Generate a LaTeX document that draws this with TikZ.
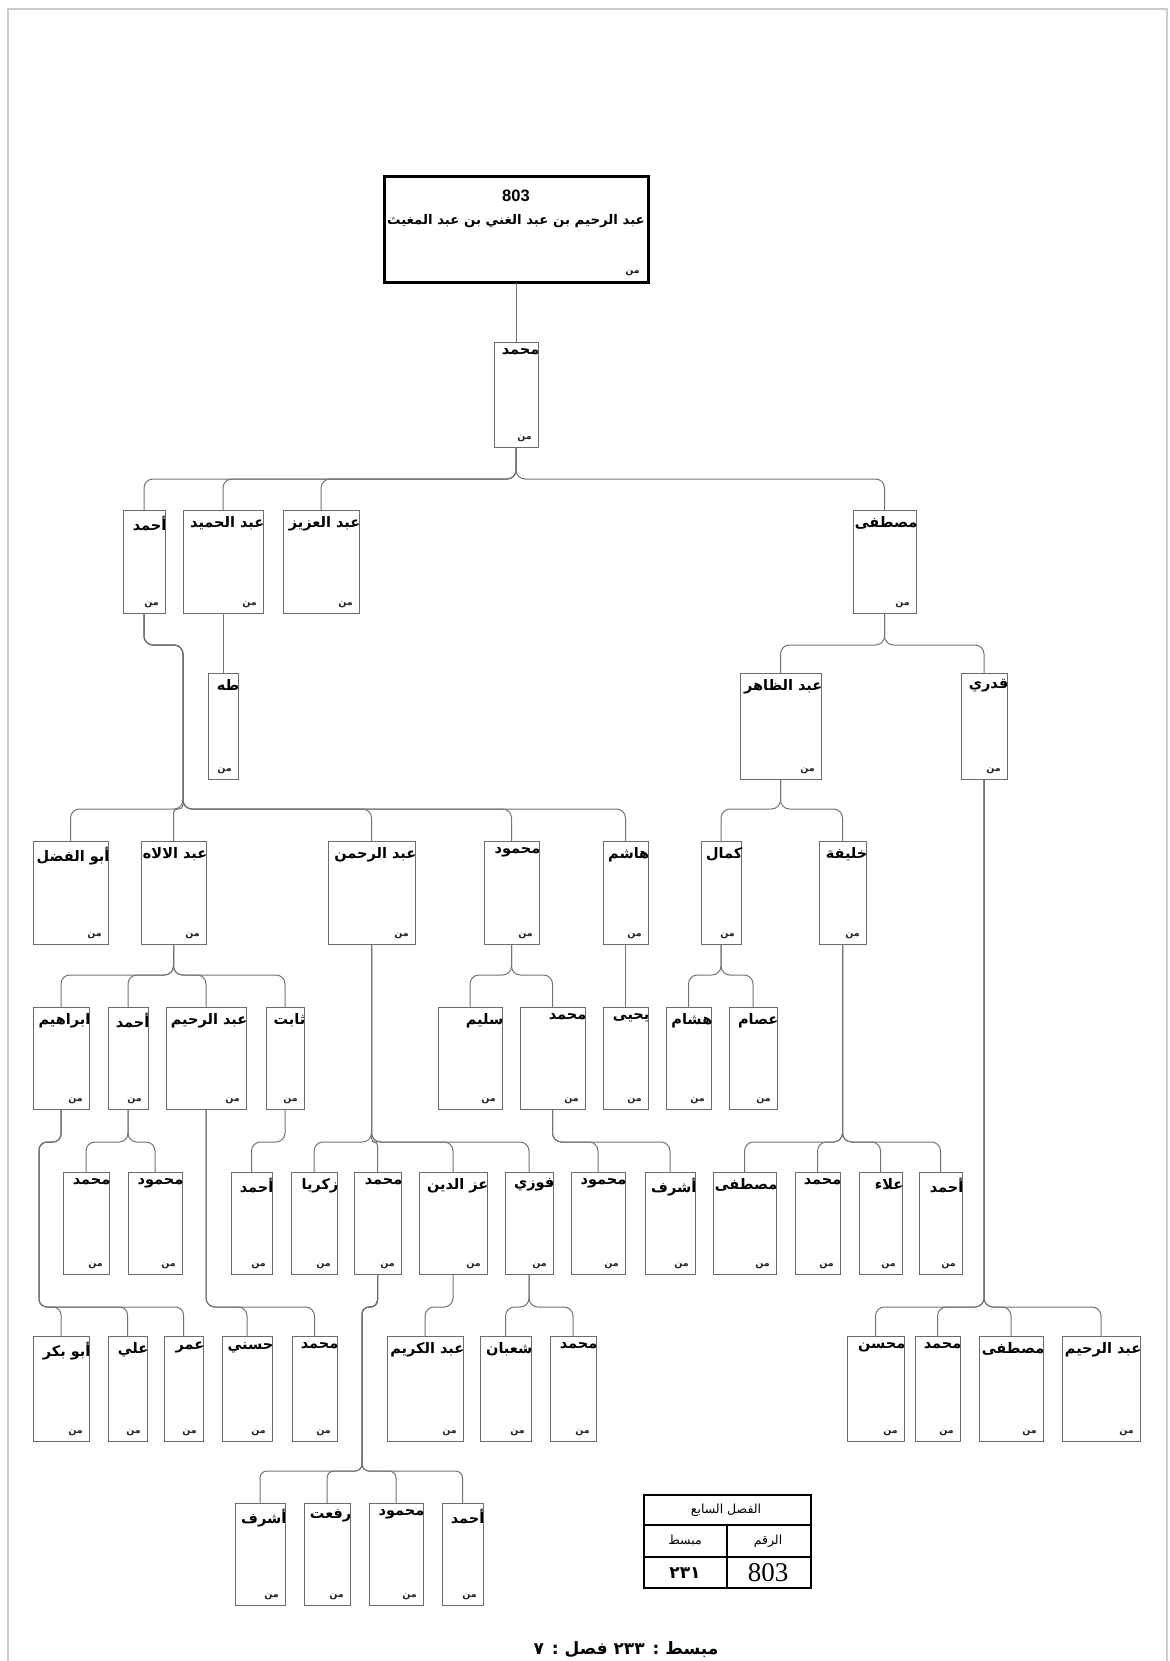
\documentclass[tikz,border=0pt]{standalone}
\usepackage{fontspec}
\setmainfont{Liberation Sans}
\newfontfamily\arb[Script=Arabic]{DejaVu Sans}
\newfontfamily\tms{Liberation Serif}
\TeXXeTstate=1
\definecolor{boxgray}{gray}{0.42}
\definecolor{linegray}{gray}{0.45}
\tikzset{
  box/.style={draw=boxgray, line width=1pt, inner sep=0pt, outer sep=0pt, fill=white},
  rootbox/.style={draw=black, line width=3pt, inner sep=0pt, outer sep=0pt, fill=white},
  nm/.style={font=\arb\bfseries\fontsize{14.5}{16}\selectfont, inner sep=0pt, text=black},
  mn/.style={font=\arb\bfseries\fontsize{9.5}{11}\selectfont, inner sep=0pt, text=black!85},
  conn/.style={draw=linegray, line width=1pt},
  tline/.style={draw=black, line width=1.6pt},
}
\newcommand\bx[6]{%
  \node[box, minimum width={(#4-#2)*1pt}, minimum height={(#5-#3)*1pt}, anchor=north west] (#1) at (#2,#3) {};
  \node[nm, anchor=north east] (#1-t) at ([xshift=1.5pt,yshift=-6pt]#1.north east) {#6};
  \node[mn, anchor=south east] (#1-m) at ([xshift=-6pt,yshift=5pt]#1.south east) {\beginR من\endR};
}
% parent, child, level
\newcommand\kid[4][9pt]{\draw[conn,rounded corners=#1] (#2.south) -- (#2.south |- #4) -- (#3.north |- #4) -- (#3.north);}
% parent, child, jog point, level
\newcommand\kidj[5][9pt]{\draw[conn,rounded corners=#1] (#2.south) -- (#2.south |- #4) -- (#4) -- (#4 |- #5) -- (#3.north |- #5) -- (#3.north);}
\newcommand\kids[2]{\draw[conn] (#1.south) -- (#2.north);}
\begin{document}
\begin{tikzpicture}[x=1pt,y=-1pt]
\useasboundingbox (0,0) rectangle (1169,1661);
\clip (0,0) rectangle (1169,1661);
\fill[white] (0,0) rectangle (1169,1661);
\draw[draw=gray!40, line width=1.5pt] (8,9) rectangle (1167,1700);

% levels
\coordinate (L2) at (0,479);
\coordinate (L3) at (0,645);
\coordinate (L4) at (0,809);
\coordinate (L5) at (0,975);
\coordinate (L6) at (0,1142);
\coordinate (L7) at (0,1307);
\coordinate (L8) at (0,1471);
% jogs
\coordinate (jA) at (183,645);
\coordinate (jA4) at (183,797);
\coordinate (jI) at (39,1142);
\coordinate (jM) at (362,1307);

% root
\node[rootbox, minimum width=264pt, minimum height=106pt, anchor=north west] (root) at (384,177) {};
\node[font=\bfseries\fontsize{16.5}{18}\selectfont, inner sep=0pt] (root-n) at (516,196) {803};
\node[nm, font=\arb\bfseries\fontsize{13.3}{15}\selectfont] (root-t) at (516,221) {\beginR عبد الرحيم بن عبد الغني بن عبد المغيث\endR};
\node[mn, anchor=south east] (root-m) at ([xshift=-8pt,yshift=7pt]root.south east) {\beginR من\endR};

% row 1
\bx{m1}{494}{342}{538}{447}{\beginR محمد\endR}
% row 2
\bx{a2}{123}{510}{165}{613}{\beginR أحمد\endR}
\bx{b2}{183}{510}{263}{613}{\beginR عبد الحميد\endR}
\bx{c2}{283}{510}{359}{613}{\beginR عبد العزيز\endR}
\bx{d2}{853}{510}{916}{613}{\beginR مصطفى\endR}
% row 3
\bx{t3}{208}{673}{238}{779}{\beginR طه\endR}
\bx{e3}{740}{673}{821}{779}{\beginR عبد الظاهر\endR}
\bx{f3}{961}{673}{1007}{779}{\beginR قدري\endR}
% row 4
\bx{g4}{33}{841}{108}{944}{\beginR أبو الفضل\endR}
\bx{h4}{141}{841}{206}{944}{\beginR عبد الالاه\endR}
\bx{i4}{328}{841}{415}{944}{\beginR عبد الرحمن\endR}
\bx{j4}{484}{841}{539}{944}{\beginR محمود\endR}
\bx{k4}{603}{841}{648}{944}{\beginR هاشم\endR}
\bx{l4}{701}{841}{741}{944}{\beginR كمال\endR}
\bx{m4}{819}{841}{866}{944}{\beginR خليفة\endR}
% row 5
\bx{n5}{33}{1007}{89}{1109}{\beginR ابراهيم\endR}
\bx{o5}{108}{1007}{148}{1109}{\beginR أحمد\endR}
\bx{p5}{166}{1007}{246}{1109}{\beginR عبد الرحيم\endR}
\bx{q5}{266}{1007}{304}{1109}{\beginR ثابت\endR}
\bx{r5}{438}{1007}{502}{1109}{\beginR سليم\endR}
\bx{s5}{520}{1007}{585}{1109}{\beginR محمد\endR}
\bx{t5}{603}{1007}{648}{1109}{\beginR يحيى\endR}
\bx{u5}{666}{1007}{711}{1109}{\beginR هشام\endR}
\bx{v5}{729}{1007}{777}{1109}{\beginR عصام\endR}
% row 6
\bx{a6}{63}{1172}{109}{1274}{\beginR محمد\endR}
\bx{b6}{128}{1172}{182}{1274}{\beginR محمود\endR}
\bx{c6}{231}{1172}{272}{1274}{\beginR أحمد\endR}
\bx{d6}{291}{1172}{337}{1274}{\beginR زكريا\endR}
\bx{e6}{354}{1172}{401}{1274}{\beginR محمد\endR}
\bx{f6}{419}{1172}{487}{1274}{\beginR عز الدين\endR}
\bx{g6}{505}{1172}{553}{1274}{\beginR فوزي\endR}
\bx{h6}{571}{1172}{625}{1274}{\beginR محمود\endR}
\bx{i6}{645}{1172}{695}{1274}{\beginR أشرف\endR}
\bx{j6}{713}{1172}{776}{1274}{\beginR مصطفى\endR}
\bx{k6}{795}{1172}{840}{1274}{\beginR محمد\endR}
\bx{l6}{859}{1172}{902}{1274}{\beginR علاء\endR}
\bx{m6}{919}{1172}{962}{1274}{\beginR أحمد\endR}
% row 7
\bx{a7}{33}{1336}{89}{1441}{\beginR أبو بكر\endR}
\bx{b7}{108}{1336}{147}{1441}{\beginR علي\endR}
\bx{c7}{164}{1336}{203}{1441}{\beginR عمر\endR}
\bx{d7}{222}{1336}{272}{1441}{\beginR حسني\endR}
\bx{e7}{292}{1336}{337}{1441}{\beginR محمد\endR}
\bx{f7}{387}{1336}{463}{1441}{\beginR عبد الكريم\endR}
\bx{g7}{480}{1336}{531}{1441}{\beginR شعبان\endR}
\bx{h7}{550}{1336}{596}{1441}{\beginR محمد\endR}
\bx{i7}{847}{1336}{904}{1441}{\beginR محسن\endR}
\bx{j7}{915}{1336}{960}{1441}{\beginR محمد\endR}
\bx{k7}{979}{1336}{1043}{1441}{\beginR مصطفى\endR}
\bx{l7}{1062}{1336}{1140}{1441}{\beginR عبد الرحيم\endR}
% row 8
\bx{a8}{235}{1503}{285}{1605}{\beginR أشرف\endR}
\bx{b8}{304}{1503}{350}{1605}{\beginR رفعت\endR}
\bx{c8}{369}{1503}{423}{1605}{\beginR محمود\endR}
\bx{d8}{442}{1503}{483}{1605}{\beginR أحمد\endR}

% connectors
\kids{root}{m1}
\kid{m1}{a2}{L2}\kid{m1}{b2}{L2}\kid{m1}{c2}{L2}\kid{m1}{d2}{L2}
\kids{b2}{t3}
\kid{d2}{e3}{L3}\kid{d2}{f3}{L3}
\kidj{a2}{g4}{jA}{L4}\kidj{a2}{i4}{jA}{L4}\kidj{a2}{j4}{jA}{L4}\kidj{a2}{k4}{jA}{L4}
\draw[conn,rounded corners=4pt] (jA4) -- (jA4 |- L4) -- (h4.north |- L4) -- (h4.north);
\kid{e3}{l4}{L4}\kid{e3}{m4}{L4}
\kid{h4}{n5}{L5}\kid{h4}{o5}{L5}\kid{h4}{p5}{L5}\kid{h4}{q5}{L5}
\kid{j4}{r5}{L5}\kid{j4}{s5}{L5}
\kids{k4}{t5}
\kid{l4}{u5}{L5}\kid{l4}{v5}{L5}
\kid{i4}{d6}{L6}\kid[3.5pt]{i4}{e6}{L6}\kid{i4}{f6}{L6}\kid{i4}{g6}{L6}
\kid{m4}{j6}{L6}\kid{m4}{k6}{L6}\kid{m4}{l6}{L6}\kid{m4}{m6}{L6}
\kid{o5}{a6}{L6}\kid{o5}{b6}{L6}
\kid{q5}{c6}{L6}
\kid{s5}{h6}{L6}\kid{s5}{i6}{L6}
\kidj[8pt]{n5}{a7}{jI}{L7}\kidj[8pt]{n5}{b7}{jI}{L7}\kidj[8pt]{n5}{c7}{jI}{L7}
\kid{p5}{d7}{L7}\kid{p5}{e7}{L7}
\kid{f6}{f7}{L7}
\kid{g6}{g7}{L7}\kid{g6}{h7}{L7}
\kid{f3}{i7}{L7}\kid{f3}{j7}{L7}\kid{f3}{k7}{L7}\kid{f3}{l7}{L7}
\kidj[7pt]{e6}{a8}{jM}{L8}\kidj[7pt]{e6}{b8}{jM}{L8}\kidj[7pt]{e6}{c8}{jM}{L8}\kidj[7pt]{e6}{d8}{jM}{L8}

% table
\node[draw=black, line width=1.6pt, minimum width=167pt, minimum height=93pt, inner sep=0pt, anchor=north west] (tab) at (643,1494) {};
\draw[tline] (643,1525) -- (810,1525);
\draw[tline] (643,1557) -- (810,1557);
\draw[tline] (727,1525) -- (727,1587);
\node[font=\arb\fontsize{12.5}{14}\selectfont, inner sep=0pt] (tab-h) at (726,1510) {\beginR الفصل السابع\endR};
\node[font=\arb\fontsize{12.5}{14}\selectfont, inner sep=0pt] (tab-r) at (768,1541) {\beginR الرقم\endR};
\node[font=\arb\fontsize{12.5}{14}\selectfont, inner sep=0pt] (tab-l) at (685,1541) {\beginR مبسط\endR};
\node[font=\tms\fontsize{27}{29}\selectfont, inner sep=0pt] (tab-n) at (768,1573) {803};
\node[font=\arb\bfseries\fontsize{17}{19}\selectfont, inner sep=0pt] (tab-s) at (685,1573) {\beginR ٢٣١\endR};

% bottom text
\node[font=\arb\bfseries\fontsize{17}{19}\selectfont, inner sep=0pt, anchor=south] (foot) at (626,1658) {\beginR مبسط : ٢٣٣ فصل : ٧\endR};
\end{tikzpicture}
\end{document}
